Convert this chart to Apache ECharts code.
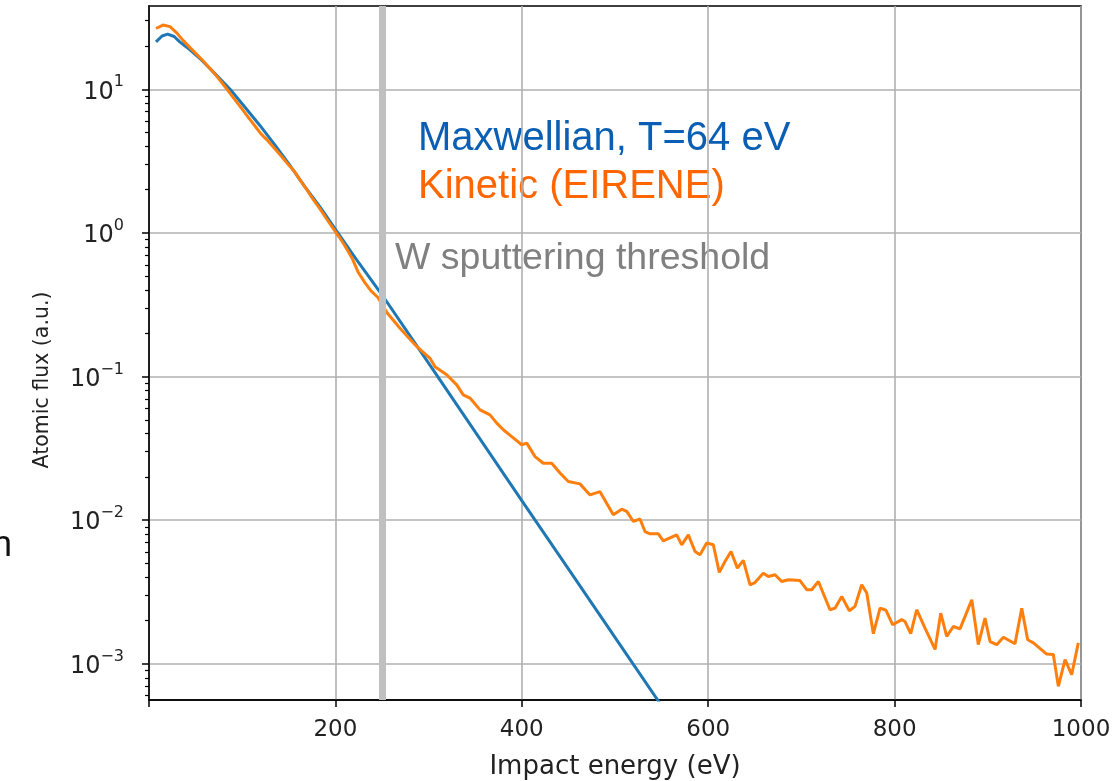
<!DOCTYPE html>
<html>
<head>
<meta charset="utf-8">
<title>Atomic flux vs impact energy</title>
<script src="https://cdn.jsdelivr.net/npm/echarts@6/dist/echarts.min.js"></script>
<style>
  html, body { margin: 0; padding: 0; background: #fff; }
  #chart { width: 1117px; height: 781px; }
</style>
</head>
<body>
<div id="chart"></div>
<script>
// Maxwellian, T=64 eV
const maxwellE = [7.5, 14, 20, 27, 33, 44, 55, 71, 87, 103, 119, 135, 151, 167, 184, 200, 225, 250, 300, 350, 400, 450, 500, 550];
const maxwellFlux = [21.4, 23.5, 24.2, 23.3, 21.4, 18.8, 16.3, 12.8, 10.0, 7.5, 5.6, 4.1, 2.96, 2.11, 1.50, 1.06, 0.62, 0.371, 0.124, 0.0412, 0.0137, 0.00458, 0.00153, 0.00051];

// Kinetic (EIRENE)
const kineticE = [
  7.5, 15.0, 22.5, 30.0, 36.5, 44.0, 50.4, 57.9, 64.4, 71.9, 78.3, 85.8, 92.3, 99.8, 106.2, 113.7,
  120.2, 127.7, 134.1, 141.6, 148.1, 155.6, 162.0, 169.5, 176.0, 183.5, 189.9, 197.4, 203.9, 210.3,
  217.8, 224.3, 231.8, 238.2, 245.7, 255.0, 269.3, 287.2, 301.5, 306.9, 319.4, 330.2, 337.2, 344.4,
  355.2, 365.9, 373.1, 380.2, 389.2, 399.9, 405.3, 414.2, 423.1, 432.1, 441.0, 449.9, 462.4, 473.2,
  483.9, 498.2, 507.2, 512.6, 519.7, 526.8, 532.2, 537.6, 546.5, 551.8, 566.2, 571.6, 578.7, 585.9,
  591.2, 598.4, 605.5, 611.9, 618.0, 624.5, 631.3, 637.7, 644.9, 650.2, 659.1, 664.5, 671.7, 678.9,
  686.0, 698.5, 705.7, 711.1, 718.2, 730.7, 736.1, 743.3, 751.4, 757.5, 764.7, 770.1, 777.2, 784.4,
  790.8, 798.0, 807.6, 811.2, 817.3, 823.7, 833.0, 843.4, 849.5, 855.9, 863.0, 870.2, 882.8, 889.8,
  897.0, 902.4, 909.6, 916.7, 929.2, 936.4, 942.8, 948.9, 963.2, 970.3, 975.7, 982.9, 990.0, 997.1
];
const kineticFlux = [
  26.5, 28.0, 27.3, 24.6, 21.9, 19.5, 17.7, 15.8, 14.2, 12.5, 11.1, 9.58, 8.43, 7.30, 6.42, 5.55,
  4.89, 4.37, 3.91, 3.44, 3.07, 2.70, 2.34, 1.99, 1.72, 1.47, 1.27, 1.08, 0.94, 0.81,
  0.67, 0.535, 0.449, 0.395, 0.355, 0.28, 0.217, 0.162, 0.134, 0.117, 0.103, 0.0875, 0.0746, 0.0708,
  0.0586, 0.0541, 0.0474, 0.0426, 0.0382, 0.0335, 0.0344, 0.0277, 0.0249, 0.0249, 0.0213, 0.0186, 0.0179, 0.0150,
  0.0158, 0.01091, 0.01194, 0.01151, 0.00980, 0.01019, 0.00834, 0.00804, 0.00804, 0.00719, 0.00791, 0.00674, 0.00791, 0.00605,
  0.00574, 0.00693, 0.00674, 0.00433, 0.00516, 0.00605, 0.00464, 0.00525, 0.00355, 0.00368, 0.00428, 0.00406, 0.00417, 0.00374,
  0.00385, 0.00380, 0.00328, 0.00328, 0.00374, 0.00238, 0.00244, 0.00294, 0.00234, 0.00251, 0.00355, 0.00311, 0.00162, 0.00244,
  0.00236, 0.00187, 0.00203, 0.00197, 0.00162, 0.00238, 0.00175, 0.00126, 0.00225, 0.00155, 0.00182, 0.00175, 0.00279, 0.00136,
  0.00208, 0.00143, 0.00136, 0.00153, 0.00138, 0.00244, 0.00147, 0.00140, 0.00117, 0.00116, 0.000697, 0.00107, 0.000840, 0.00140
];

const thresholdE = 250; // W sputtering threshold
const xTicks = [200, 400, 600, 800, 1000];
const yMajor = [1e-3, 1e-2, 1e-1, 1, 10];
const yMinor = [6e-4, 7e-4, 8e-4, 9e-4, 2e-3, 3e-3, 4e-3, 5e-3, 6e-3, 7e-3, 8e-3, 9e-3,
  2e-2, 3e-2, 4e-2, 5e-2, 6e-2, 7e-2, 8e-2, 9e-2, 0.2, 0.3, 0.4, 0.5, 0.6, 0.7, 0.8, 0.9,
  2, 3, 4, 5, 6, 7, 8, 9, 20, 30];

const font = "DejaVu Sans";
const chart = echarts.init(document.getElementById("chart"));

function pow10Label(v) {
  const e = Math.round(Math.log10(v));
  const sup = e < 0 ? "\u2212" + -e : String(e);
  return "{b|10}{s|" + sup + "}";
}

const option = {
  animation: false,
  backgroundColor: "#fff",
  grid: {
    left: 149, right: 36, top: 6, bottom: 81,
    outerBoundsMode: "none",
    show: true, borderColor: "#000", borderWidth: 1.6,
  },
  xAxis: {
    type: "value",
    min: 0,
    max: 1000,
    interval: 200,
    name: "Impact energy (eV)",
    nameLocation: "middle",
    nameGap: 54,
    nameTextStyle: { fontFamily: font, fontSize: 26, color: "#222" },
    axisLine: { lineStyle: { color: "#000", width: 1.6 } },
    axisTick: { length: 7, lineStyle: { color: "#000", width: 1.5 } },
    axisLabel: {
      fontFamily: font, fontSize: 23, color: "#222", margin: 19,
      formatter: (v) => (xTicks.indexOf(v) >= 0 ? String(v) : ""),
    },
    splitLine: { lineStyle: { color: "#b0b0b0", width: 1.6 } },
  },
  yAxis: [
    {
      type: "log",
      logBase: 10,
      min: 5.6e-4,
      max: 38,
      name: "Atomic flux (a.u.)",
      nameLocation: "middle",
      nameRotate: 90,
      nameGap: 96,
      nameTextStyle: { fontFamily: font, fontSize: 20.5, color: "#222", padding: [0, 54, 0, 0] },
      axisLine: { show: true, lineStyle: { color: "#000", width: 1.6 } },
      axisTick: { length: 7, customValues: yMajor, lineStyle: { color: "#000", width: 1.5 } },
      axisLabel: {
        customValues: yMajor,
        margin: 25,
        formatter: pow10Label,
        rich: {
          b: { fontFamily: font, fontSize: 24, color: "#222", lineHeight: 30, verticalAlign: "bottom" },
          s: { fontFamily: font, fontSize: 16, color: "#222", lineHeight: 17, verticalAlign: "top" },
        },
      },
      splitLine: { show: true, lineStyle: { color: "#b0b0b0", width: 1.6 } },
    },
    {
      type: "log",
      logBase: 10,
      min: 5.6e-4,
      max: 38,
      position: "left",
      axisLine: { show: false },
      axisTick: { length: 4, customValues: yMinor, lineStyle: { color: "#000", width: 1.2 } },
      axisLabel: { show: false },
      splitLine: { show: false },
    },
  ],
  series: [
    {
      name: "Maxwellian, T=64 eV",
      type: "line",
      showSymbol: false,
      data: maxwellE.map((e, i) => [e, maxwellFlux[i]]),
      lineStyle: { color: "#1f77b4", width: 3 },
      itemStyle: { color: "#1f77b4" },
    },
    {
      name: "Kinetic (EIRENE)",
      type: "line",
      showSymbol: false,
      data: kineticE.map((e, i) => [e, kineticFlux[i]]),
      lineStyle: { color: "#ff7f0e", width: 3 },
      itemStyle: { color: "#ff7f0e" },
      markLine: {
        silent: true,
        symbol: ["none", "none"],
        label: { show: false },
        lineStyle: { color: "#c0c0c0", width: 7, type: "solid" },
        data: [{ xAxis: thresholdE }],
      },
    },
  ],
  graphic: [
    {
      type: "text", left: 418, top: 119,
      style: { text: "Maxwellian, T=64 eV", fill: "#0a5fb4", font: "40px 'Liberation Sans'" },
    },
    {
      type: "text", left: 418, top: 167,
      style: { text: "Kinetic (EIRENE)", fill: "#ff6600", font: "40px 'Liberation Sans'" },
    },
    {
      type: "text", left: 395, top: 240,
      style: { text: "W sputtering threshold", fill: "#808080", font: "37.5px 'Liberation Sans'" },
    },
    {
      type: "text", left: -8, top: 528,
      style: { text: "n", fill: "#111", font: "36px 'Liberation Sans'" },
    },
  ],
};

chart.setOption(option);
</script>
</body>
</html>
